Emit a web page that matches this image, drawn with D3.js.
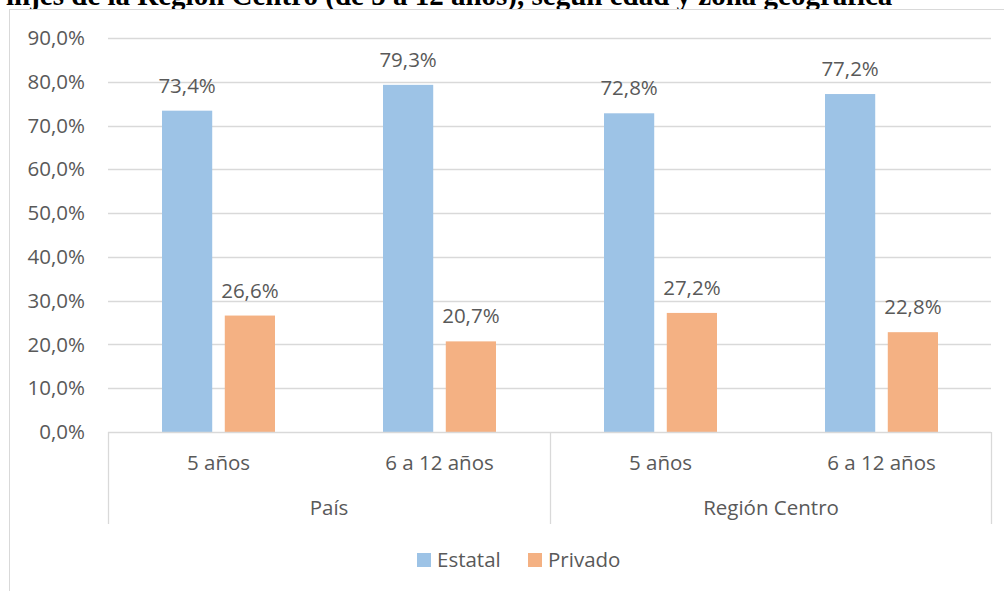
<!DOCTYPE html>
<html>
<head>
<meta charset="utf-8">
<script src="https://cdn.jsdelivr.net/npm/d3@7"></script>
<style>
  body { margin: 0; background: #fff; }
  text { font-family: "Open Sans", sans-serif; fill: #595959; }
</style>
</head>
<body>
<script>
// data
var categories = ["5 años", "6 a 12 años", "5 años", "6 a 12 años"];
var groups = ["País", "Región Centro"];
var seriesNames = ["Estatal", "Privado"];
var estatal = [73.4, 79.3, 72.8, 77.2];
var privado = [26.6, 20.7, 27.2, 22.8];
var yTicks = [0, 10, 20, 30, 40, 50, 60, 70, 80, 90];

var width = 1004;
var height = 591;
var colors = {"Estatal": "#9DC3E6", "Privado": "#F4B183"};
var fontSize = "20.5px";

var svg = d3.select("body")
            .append("svg")
            .attr("width", width)
            .attr("height", height);

// title (cut off at the top in the original, chart box lies over it)
svg.append("text")
   .attr("x", 6)
   .attr("y", 5)
   .style("font-family", "Liberation Serif, serif")
   .style("font-weight", "bold")
   .style("font-size", "29px")
   .style("fill", "#000")
   .text("injes de la Región Centro (de 5 a 12 años), según edad y zona geográfica");

// chart frame
svg.append("rect")
   .attr("x", 9.5).attr("y", 9.5)
   .attr("width", 1010).attr("height", 600)
   .attr("fill", "#fff")
   .attr("stroke", "#D9D9D9");

var plotLeft = 108, plotRight = 992, plotTop = 38, plotBottom = 432;

var x = d3.scaleBand()
          .domain(d3.range(categories.length))
          .range([plotLeft, plotRight]);
var xs = d3.scaleBand()
           .domain(seriesNames)
           .range([54, 167])
           .paddingInner(0.2);
var y = d3.scaleLinear().domain([0, 90]).range([plotBottom, plotTop]);

var fmt = function (v) { return v.toFixed(1).replace(".", ",") + "%"; };

// gridlines
svg.append("g").selectAll("line")
   .data(yTicks.filter(function (d) { return d > 0; }))
   .enter().append("line")
   .attr("x1", plotLeft).attr("x2", plotRight - 1)
   .attr("y1", function (d) { return Math.round(y(d)) + 0.5; })
   .attr("y2", function (d) { return Math.round(y(d)) + 0.5; })
   .attr("stroke", "#D9D9D9")
   .attr("stroke-width", 1.3);

// y axis labels
var yAxis = d3.axisLeft(y).tickValues(yTicks).tickSize(0).tickPadding(0).tickFormat(fmt);
var yg = svg.append("g")
   .attr("transform", "translate(85,0)")
   .call(yAxis);
yg.select(".domain").remove();
yg.selectAll("text")
  .style("font-family", "Open Sans, sans-serif")
  .style("font-size", fontSize)
  .attr("fill", "#595959");

// bars
var rows = categories.map(function (c, i) {
    return {i: i, values: [{name: "Estatal", v: estatal[i]}, {name: "Privado", v: privado[i]}]};
});

var catG = svg.selectAll(".cat")
   .data(rows)
   .enter().append("g")
   .attr("class", "cat")
   .attr("transform", function (d) { return "translate(" + x(d.i) + ",0)"; });

catG.selectAll("rect")
    .data(function (d) { return d.values; })
    .enter().append("rect")
    .attr("x", function (d) { return xs(d.name); })
    .attr("y", function (d) { return y(d.v); })
    .attr("width", xs.bandwidth())
    .attr("height", function (d) { return plotBottom - y(d.v); })
    .attr("fill", function (d) { return colors[d.name]; });

catG.selectAll(".lbl")
    .data(function (d) { return d.values; })
    .enter().append("text")
    .attr("class", "lbl")
    .attr("x", function (d) { return xs(d.name) + xs.bandwidth() / 2; })
    .attr("y", function (d) { return y(d.v) - 18; })
    .attr("text-anchor", "middle")
    .style("font-size", fontSize)
    .text(function (d) { return fmt(d.v); });

// baseline axis + separators
svg.append("line")
   .attr("x1", plotLeft).attr("x2", plotRight - 1)
   .attr("y1", plotBottom + 0.5).attr("y2", plotBottom + 0.5)
   .attr("stroke", "#D9D9D9").attr("stroke-width", 1.3);

var groupX = d3.scaleBand().domain(groups).range([plotLeft, plotRight]);
var seps = [plotLeft, plotLeft + groupX.bandwidth(), plotRight - 1];
svg.append("g").selectAll("line")
   .data(seps)
   .enter().append("line")
   .attr("x1", function (d) { return d + 0.5; })
   .attr("x2", function (d) { return d + 0.5; })
   .attr("y1", plotBottom).attr("y2", 524)
   .attr("stroke", "#D9D9D9").attr("stroke-width", 1.3);

// category labels
svg.append("g").selectAll("text")
   .data(categories)
   .enter().append("text")
   .attr("x", function (d, i) { return x(i) + x.bandwidth() / 2; })
   .attr("y", 470)
   .attr("text-anchor", "middle")
   .style("font-size", fontSize)
   .text(function (d) { return d; });

// group labels
svg.append("g").selectAll("text")
   .data(groups)
   .enter().append("text")
   .attr("x", function (d) { return groupX(d) + groupX.bandwidth() / 2; })
   .attr("y", 515)
   .attr("text-anchor", "middle")
   .style("font-size", fontSize)
   .text(function (d) { return d; });

// legend
var legendX = [417, 528];
var leg = svg.append("g").selectAll("g")
   .data(seriesNames)
   .enter().append("g")
   .attr("transform", function (d, i) { return "translate(" + legendX[i] + ",553)"; });
leg.append("rect")
   .attr("width", 14).attr("height", 14)
   .attr("fill", function (d) { return colors[d]; });
leg.append("text")
   .attr("x", 20).attr("y", 14)
   .style("font-size", fontSize)
   .text(function (d) { return d; });
</script>
</body>
</html>
